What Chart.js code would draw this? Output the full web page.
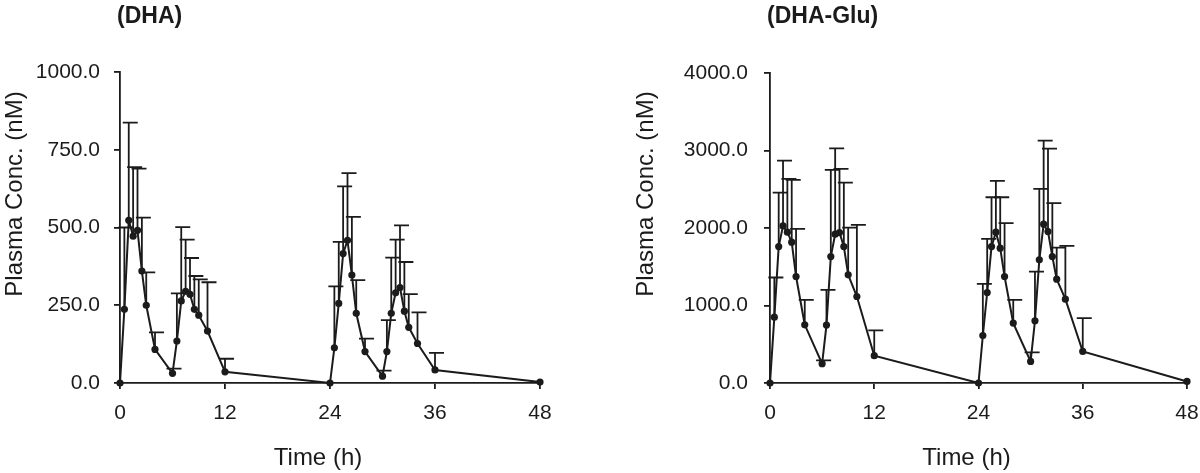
<!DOCTYPE html>
<html>
<head>
<meta charset="utf-8">
<script src="https://cdn.jsdelivr.net/npm/chart.js@4.4.1/dist/chart.umd.min.js"></script>
<style>
    html, body { margin: 0; padding: 0; background: #fff; }
    #wrap { position: relative; width: 1200px; height: 473px; }
    .panel { position: absolute; top: 0; width: 600px; height: 473px; }
</style>
</head>
<body>
<div id="wrap">
    <div class="panel" style="left:0"><canvas id="dhaChart" width="600" height="473"></canvas></div>
    <div class="panel" style="left:600px"><canvas id="gluChart" width="600" height="473"></canvas></div>
</div>
<script>
// Время отбора проб (ч)
const timeH = [0, 0.5, 1, 1.5, 2, 2.5, 3, 4, 6, 6.5, 7, 7.5, 8, 8.5, 9, 10, 12,
    24, 24.5, 25, 25.5, 26, 26.5, 27, 28, 30, 30.5, 31, 31.5, 32, 32.5, 33, 34, 36, 48];

// DHA: среднее и SD (nM)
const dhaMean = [0, 237, 523, 472, 491, 360, 250, 108, 31, 135, 264, 295, 285, 237, 218, 167, 36,
    0, 113, 256, 416, 459, 347, 224, 101, 22, 101, 224, 290, 307, 231, 179, 127, 42, 3];
const dhaSd = [null, 263, 314, 222, 198, 172, 106, 55, 15, 153, 237, 166, 117, 107, 115, 157, 42,
    null, 198, 198, 216, 216, 187, 107, 42, 18, 101, 179, 171, 200, 158, 107, 100, 55, null];

// DHA-Glu: среднее и SD (nM)
const gluMean = [0, 850, 1760, 2027, 1946, 1817, 1374, 751, 249, 747, 1631, 1920, 1941, 1760, 1396, 1116, 352,
    0, 613, 1168, 1760, 1946, 1740, 1374, 773, 278, 803, 1589, 2049, 1954, 1631, 1340, 1082, 407, 20];
const gluSd = [null, 511, 696, 842, 687, 803, 614, 322, 42, 455, 1118, 1108, 821, 825, 609, 924, 326,
    null, 667, 692, 637, 661, 657, 688, 300, 116, 635, 915, 1078, 1070, 689, 408, 688, 431, null];

const xTicks = [0, 12, 24, 36, 48];
const dhaYTicks = [0, 250, 500, 750, 1000];
const gluYTicks = [0, 1000, 2000, 3000, 4000];

const INK = '#1b1b1b';
const FONT = '"Liberation Sans", Arial, Helvetica, sans-serif';

// Усы погрешностей (только вверх)
const errorBars = {
    id: 'errorBars',
    beforeDatasetsDraw(chart) {
        const { ctx } = chart;
        const y = chart.scales.y;
        const sd = chart.options.plugins.errorBars.sd;
        const mean = chart.data.datasets[0].data;
        const meta = chart.getDatasetMeta(0);
        ctx.save();
        ctx.strokeStyle = INK;
        ctx.lineWidth = 1.8;
        meta.data.forEach((pt, i) => {
            if (sd[i] == null) return;
            const top = y.getPixelForValue(mean[i].y + sd[i]);
            ctx.beginPath();
            ctx.moveTo(pt.x, pt.y);
            ctx.lineTo(pt.x, top);
            ctx.moveTo(pt.x - 6, top);
            ctx.lineTo(pt.x + 9, top);
            ctx.stroke();
        });
        ctx.restore();
    }
};

// Заголовок панели и подписи осей
const panelText = {
    id: 'panelText',
    afterDraw(chart) {
        const { ctx, chartArea } = chart;
        const o = chart.options.plugins.panelText;
        ctx.save();
        ctx.fillStyle = INK;
        ctx.textBaseline = 'middle';
        ctx.textAlign = 'left';
        ctx.font = 'bold 23px ' + FONT;
        ctx.fillText(o.title, chartArea.left - 3, 17);

        ctx.font = '24px ' + FONT;
        ctx.textAlign = 'center';
        ctx.fillText('Time (h)', (chartArea.left + chartArea.right) / 2 - 12, 458);

        ctx.translate(o.yTitleX, 194);
        ctx.rotate(-Math.PI / 2);
        ctx.fillText('Plasma Conc. (nM)', 0, 0);
        ctx.restore();
    }
};

function makePanel(id, mean, sd, yTicks, opts) {
    const ctx = document.getElementById(id);
    const points = timeH.map((t, i) => ({ x: t, y: mean[i] }));
    return new Chart(ctx, {
        type: 'line',
        data: {
            datasets: [{
                data: points,
                borderColor: INK,
                borderWidth: 2,
                pointBackgroundColor: INK,
                pointBorderColor: INK,
                pointRadius: 3.6,
                pointBorderWidth: 0,
                tension: 0,
                clip: false
            }]
        },
        options: {
            responsive: false,
            animation: false,
            events: [],
            layout: { padding: { left: 0, top: opts.top, right: opts.right, bottom: 0 } },
            plugins: {
                legend: { display: false },
                tooltip: { enabled: false },
                errorBars: { sd: sd },
                panelText: { title: opts.title, yTitleX: opts.yTitleX }
            },
            scales: {
                x: {
                    type: 'linear',
                    min: 0,
                    max: 48,
                    afterBuildTicks: s => { s.ticks = xTicks.map(v => ({ value: v })); },
                    afterFit: s => {
                        s.height = opts.xHeight;
                        // подпись "48" не должна сдвигать область графика
                        s.paddingLeft = 0;
                        s.paddingRight = 0;
                    },
                    border: { display: true, color: INK, width: 1.8 },
                    grid: { drawOnChartArea: false, drawTicks: true, tickLength: 6, color: INK, lineWidth: 1.8 },
                    ticks: { color: INK, font: { family: FONT, size: 21 }, padding: 12, maxRotation: 0 }
                },
                y: {
                    min: 0,
                    max: yTicks[yTicks.length - 1],
                    afterBuildTicks: s => { s.ticks = yTicks.map(v => ({ value: v })); },
                    afterFit: s => { s.width = opts.yWidth; },
                    border: { display: true, color: INK, width: 1.8 },
                    grid: { drawOnChartArea: false, drawTicks: true, tickLength: 6, color: INK, lineWidth: 1.8 },
                    ticks: {
                        color: INK,
                        font: { family: FONT, size: 21 },
                        padding: opts.yPad,
                        callback: v => Number(v).toFixed(1)
                    }
                }
            }
        },
        plugins: [errorBars, panelText]
    });
}

makePanel('dhaChart', dhaMean, dhaSd, dhaYTicks, {
    title: '(DHA)', top: 72, right: 60, yWidth: 120, xHeight: 90, yPad: 14, yTitleX: 15
});
makePanel('gluChart', gluMean, gluSd, gluYTicks, {
    title: '(DHA-Glu)', top: 73, right: 13, yWidth: 170, xHeight: 90, yPad: 16, yTitleX: 46
});
</script>
</body>
</html>
